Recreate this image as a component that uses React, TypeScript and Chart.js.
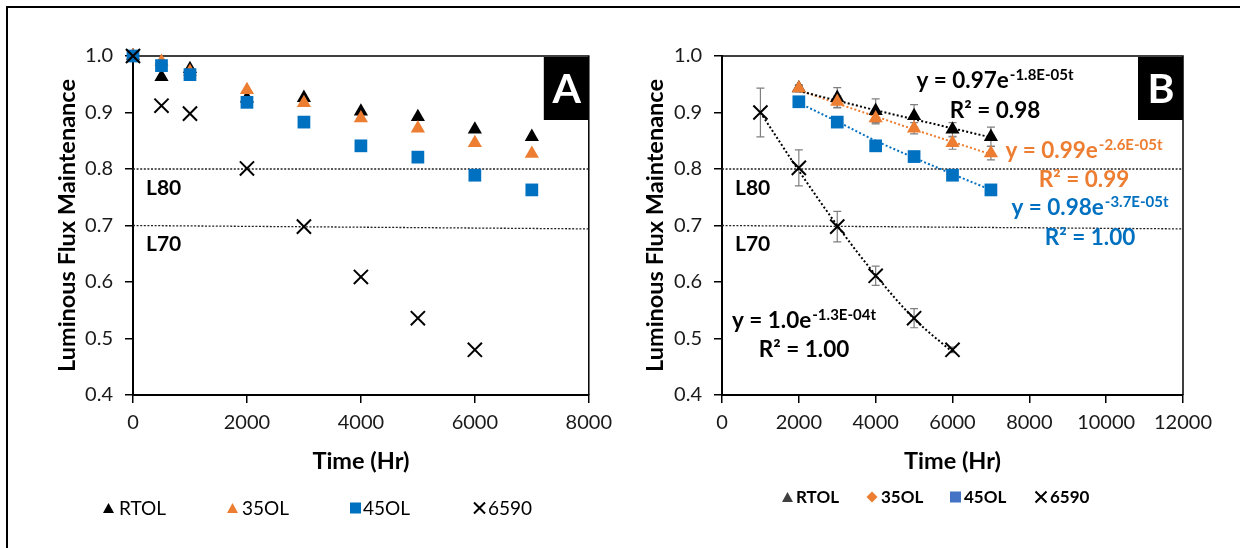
import React, { useEffect, useRef } from 'react';
import { Chart, registerables } from 'chart.js';
Chart.register(...registerables);

const FONT = 'Lato, "Open Sans", sans-serif';

// ---------- Panel A data ----------
const hoursA = [0, 500, 1000, 2000, 3000, 4000, 5000, 6000, 7000];
const rtolA = [1.0, 0.963, 0.977, 0.925, 0.926, 0.902, 0.892, 0.870, 0.857];
const ol35A = [1.0, 0.990, 0.972, 0.940, 0.917, 0.890, 0.872, 0.846, 0.827];
const ol45A = [1.0, 0.983, 0.967, 0.918, 0.883, 0.841, 0.821, 0.789, 0.763];
const hours6590A = [0, 500, 1000, 2000, 3000, 4000, 5000, 6000];
const s6590A = [1.0, 0.912, 0.898, 0.801, 0.698, 0.609, 0.536, 0.480];

// ---------- Panel B data ----------
const hoursB = [2000, 3000, 4000, 5000, 6000, 7000];
const rtolB = [0.943, 0.926, 0.903, 0.894, 0.870, 0.857];
const rtolErrB = [0.005, 0.018, 0.021, 0.020, 0.012, 0.017];
const ol35B = [0.943, 0.919, 0.890, 0.872, 0.846, 0.828];
const ol35ErrB = [0.006, 0.010, 0.010, 0.010, 0.011, 0.012];
const ol45B = [0.919, 0.883, 0.841, 0.822, 0.789, 0.763];
const ol45ErrB = [0.004, 0.005, 0.005, 0.005, 0.005, 0.005];
const hours6590B = [1000, 2000, 3000, 4000, 5000, 6000];
const s6590B = [0.900, 0.802, 0.698, 0.611, 0.536, 0.480];
const err6590B = [0.043, 0.032, 0.027, 0.017, 0.017, 0.005];

// trendlines
const rtolTrendB = [0.938, 0.921, 0.904, 0.888, 0.872, 0.856];
const ol35TrendB = [0.940, 0.916, 0.893, 0.870, 0.848, 0.826];
const ol45TrendB = [0.917, 0.884, 0.850, 0.820, 0.791, 0.763];
const trend6590B = [0.900, 0.797, 0.700, 0.612, 0.535, 0.476];

// limit lines
const limitXA = [0, 8000];
const limitXB = [0, 12000];
const l80Line = [0.8, 0.8];
const l70Line = [0.7, 0.694];
const limitLabels = ['L80', 'L70'];
const limitValues = [0.8, 0.7];

// ticks / labels
const yTicks = [0.4, 0.5, 0.6, 0.7, 0.8, 0.9, 1.0];
const xMaxA = 8000;
const xMaxB = 12000;
const xStep = 2000;
const seriesNames = ['RTOL', '35OL', '45OL', '6590'];
const eqMain = ['y = 0.97e', 'y = 0.99e', 'y = 0.98e', 'y = 1.0e'];
const eqSup = ['-1.8E-05t', '-2.6E-05t', '-3.7E-05t', '-1.3E-04t'];
const eqR2 = ['R² = 0.98', 'R² = 0.99', 'R² = 1.00', 'R² = 1.00'];

const BLACK = '#000000';
const ORANGE = '#ED7D31';
const BLUE = '#0070C0';

const pts = (xs: number[], ys: number[]) => xs.map((x, i) => ({ x, y: ys[i] }));

function drawMarker(ctx: CanvasRenderingContext2D, style: string, x: number, y: number, size: number, color: string) {
  ctx.save();
  ctx.fillStyle = color;
  ctx.strokeStyle = color;
  ctx.beginPath();
  if (style === 'triangle') {
    const h = size * 0.9;
    ctx.moveTo(x, y - h / 2);
    ctx.lineTo(x + size / 2, y + h / 2);
    ctx.lineTo(x - size / 2, y + h / 2);
    ctx.closePath();
    ctx.fill();
  } else if (style === 'rect') {
    ctx.fillRect(x - size / 2, y - size / 2, size, size);
  } else if (style === 'diamond') {
    ctx.moveTo(x, y - size / 2);
    ctx.lineTo(x + size / 2, y);
    ctx.lineTo(x, y + size / 2);
    ctx.lineTo(x - size / 2, y);
    ctx.closePath();
    ctx.fill();
  } else {
    ctx.lineWidth = 2;
    ctx.moveTo(x - size / 2, y - size / 2);
    ctx.lineTo(x + size / 2, y + size / 2);
    ctx.moveTo(x + size / 2, y - size / 2);
    ctx.lineTo(x - size / 2, y + size / 2);
    ctx.stroke();
  }
  ctx.restore();
}

function makeScales(xMax: number, yWidth: number) {
  return {
    x: {
      type: 'linear',
      min: 0,
      max: xMax,
      ticks: {
        stepSize: xStep,
        callback: (v: any) => String(v),
        font: { family: FONT, size: 20 },
        color: '#1a1a1a',
        padding: 8,
        maxRotation: 0,
        autoSkip: false,
      },
      grid: { drawOnChartArea: false, drawTicks: true, tickLength: 8, color: '#000', lineWidth: 1.5 },
      border: { display: true, color: '#000', width: 2 },
      afterFit: (s: any) => { s.height = 153; },
    },
    y: {
      type: 'linear',
      min: 0.4,
      max: 1.0,
      afterBuildTicks: (s: any) => { s.ticks = yTicks.map((v) => ({ value: v })); },
      ticks: {
        callback: (v: any) => Number(v).toFixed(1),
        font: { family: FONT, size: 20 },
        color: '#1a1a1a',
        padding: 12,
      },
      grid: { drawOnChartArea: false, drawTicks: true, tickLength: 8, color: '#000', lineWidth: 1.5 },
      border: { display: true, color: '#000', width: 2 },
      afterFit: (s: any) => { s.width = yWidth; },
    },
  };
}

function limitDatasets(xs: number[]) {
  return [
    { label: 'L80', data: pts(xs, l80Line), showLine: true, borderColor: '#222', borderWidth: 1.3, borderDash: [2, 1.6], pointRadius: 0, order: 20 },
    { label: 'L70', data: pts(xs, l70Line), showLine: true, borderColor: '#222', borderWidth: 1.3, borderDash: [2, 1.6], pointRadius: 0, order: 20 },
  ];
}

function commonDecor(chart: any, titleX: number, legendY: number, legendItems: any[], letter: string) {
  const ctx: CanvasRenderingContext2D = chart.ctx;
  const ca = chart.chartArea;
  const ys = chart.scales.y;
  ctx.save();
  // L labels
  ctx.fillStyle = '#000';
  ctx.font = `bold 21px ${FONT}`;
  ctx.textAlign = 'left';
  ctx.textBaseline = 'middle';
  limitLabels.forEach((t, i) => {
    ctx.fillText(t, ca.left + 13, ys.getPixelForValue(limitValues[i]) + 19);
  });
  // letter box
  ctx.fillStyle = '#000';
  ctx.fillRect(ca.right - 45, ca.top + 1, 45, 63);
  ctx.fillStyle = '#fff';
  ctx.font = `bold 41px ${FONT}`;
  ctx.textAlign = 'center';
  ctx.textBaseline = 'middle';
  ctx.fillText(letter, ca.right - 22, ca.top + 34);
  // axis titles
  ctx.fillStyle = '#000';
  ctx.font = `bold 23.5px ${FONT}`;
  ctx.textAlign = 'center';
  ctx.textBaseline = 'middle';
  ctx.fillText('Time (Hr)', (ca.left + ca.right) / 2, 461);
  ctx.save();
  ctx.translate(titleX, (ca.top + ca.bottom) / 2);
  ctx.rotate(-Math.PI / 2);
  ctx.fillText('Luminous Flux Maintenance', 0, 0);
  ctx.restore();
  // legend
  legendItems.forEach((it) => {
    drawMarker(ctx, it.style, it.mx, legendY, it.size, it.color);
    ctx.fillStyle = '#000';
    ctx.font = it.font;
    ctx.textAlign = 'left';
    ctx.textBaseline = 'middle';
    ctx.fillText(it.text, it.tx, legendY + 1);
  });
  ctx.restore();
}

function frame(chart: any) {
  const ctx: CanvasRenderingContext2D = chart.ctx;
  const ca = chart.chartArea;
  ctx.save();
  ctx.strokeStyle = '#000';
  ctx.lineWidth = 1.5;
  ctx.beginPath();
  ctx.moveTo(ca.left, ca.top);
  ctx.lineTo(ca.right, ca.top);
  ctx.lineTo(ca.right, ca.bottom);
  ctx.stroke();
  ctx.restore();
}

function buildA(): any {
  const legendFont = `19px ${FONT}`;
  return {
    type: 'scatter',
    data: {
      datasets: [
        ...limitDatasets(limitXA),
        { label: seriesNames[0], data: pts(hoursA, rtolA), pointStyle: 'triangle', pointRadius: 8.2, pointBackgroundColor: BLACK, pointBorderWidth: 0, order: 4, clip: false },
        { label: seriesNames[1], data: pts(hoursA, ol35A), pointStyle: 'triangle', pointRadius: 8.2, pointBackgroundColor: ORANGE, pointBorderWidth: 0, order: 3, clip: false },
        { label: seriesNames[2], data: pts(hoursA, ol45A), pointStyle: 'rect', pointRadius: 9, pointBackgroundColor: BLUE, pointBorderWidth: 0, order: 2, clip: false },
        { label: seriesNames[3], data: pts(hours6590A, s6590A), pointStyle: 'crossRot', pointRadius: 10, pointBorderColor: BLACK, pointBorderWidth: 2, order: 1, clip: false },
      ],
    },
    options: {
      responsive: false,
      animation: false,
      events: [],
      layout: { padding: { top: 56, right: 29, left: 0, bottom: 0 } },
      plugins: { legend: { display: false }, tooltip: { enabled: false } },
      scales: makeScales(xMaxA, 133),
    },
    plugins: [
      {
        id: 'decorA',
        beforeDatasetsDraw: (chart: any) => frame(chart),
        afterDatasetsDraw: (chart: any) => {
          commonDecor(chart, 67, 508, [
            { style: 'triangle', mx: 108.5, size: 11, color: BLACK, tx: 119, text: seriesNames[0], font: legendFont },
            { style: 'triangle', mx: 232.5, size: 11, color: ORANGE, tx: 242, text: seriesNames[1], font: legendFont },
            { style: 'rect', mx: 355.5, size: 11, color: BLUE, tx: 363, text: seriesNames[2], font: legendFont },
            { style: 'cross', mx: 479.5, size: 11, color: BLACK, tx: 488, text: seriesNames[3], font: legendFont },
          ], 'A');
          const ctx: CanvasRenderingContext2D = chart.ctx;
          ctx.save();
          ctx.fillStyle = '#000';
          ctx.fillRect(6, 6, 620 - 6, 2);
          ctx.fillRect(6, 6, 2, 548 - 6);
          ctx.restore();
        },
      },
    ],
  };
}

function buildB(): any {
  const legendFont = `bold 17px ${FONT}`;
  const errorSets = [
    { xs: hoursB, ys: rtolB, err: rtolErrB },
    { xs: hoursB, ys: ol35B, err: ol35ErrB },
    { xs: hoursB, ys: ol45B, err: ol45ErrB },
    { xs: hours6590B, ys: s6590B, err: err6590B },
  ];
  const eqPos = [
    { cx: 375, eqBase: 88, r2Base: 118, color: BLACK },
    { cx: 464, eqBase: 158, r2Base: 187, color: ORANGE },
    { cx: 470, eqBase: 215, r2Base: 245, color: BLUE },
    { cx: 184, eqBase: 328, r2Base: 357, color: BLACK },
  ];
  const trend = (label: string, xs: number[], ys: number[], color: string) => ({
    label, data: pts(xs, ys), showLine: true, borderColor: color, borderWidth: 2, borderDash: [2, 2.2],
    pointRadius: 0, cubicInterpolationMode: 'monotone', order: 15,
  });
  return {
    type: 'scatter',
    data: {
      datasets: [
        ...limitDatasets(limitXB),
        trend('RTOL trend', hoursB, rtolTrendB, BLACK),
        trend('35OL trend', hoursB, ol35TrendB, ORANGE),
        trend('45OL trend', hoursB, ol45TrendB, BLUE),
        trend('6590 trend', hours6590B, trend6590B, BLACK),
        { label: seriesNames[0], data: pts(hoursB, rtolB), pointStyle: 'triangle', pointRadius: 8.2, pointBackgroundColor: BLACK, pointBorderWidth: 0, order: 4, clip: false },
        { label: seriesNames[1], data: pts(hoursB, ol35B), pointStyle: 'triangle', pointRadius: 8.2, pointBackgroundColor: ORANGE, pointBorderWidth: 0, order: 3, clip: false },
        { label: seriesNames[2], data: pts(hoursB, ol45B), pointStyle: 'rect', pointRadius: 9, pointBackgroundColor: BLUE, pointBorderWidth: 0, order: 2, clip: false },
        { label: seriesNames[3], data: pts(hours6590B, s6590B), pointStyle: 'crossRot', pointRadius: 10, pointBorderColor: BLACK, pointBorderWidth: 2, order: 1, clip: false },
      ],
    },
    options: {
      responsive: false,
      animation: false,
      events: [],
      layout: { padding: { top: 56, right: 57, left: 0, bottom: 0 } },
      plugins: { legend: { display: false }, tooltip: { enabled: false } },
      scales: makeScales(xMaxB, 102),
    },
    plugins: [
      {
        id: 'decorB',
        beforeDatasetsDraw: (chart: any) => {
          frame(chart);
          const ctx: CanvasRenderingContext2D = chart.ctx;
          const xs = chart.scales.x;
          const ysc = chart.scales.y;
          ctx.save();
          ctx.strokeStyle = '#7f7f7f';
          ctx.lineWidth = 1.2;
          errorSets.forEach((s) => {
            s.xs.forEach((xv, i) => {
              const px = xs.getPixelForValue(xv);
              const top = ysc.getPixelForValue(s.ys[i] + s.err[i]);
              const bot = ysc.getPixelForValue(s.ys[i] - s.err[i]);
              ctx.beginPath();
              ctx.moveTo(px, top); ctx.lineTo(px, bot);
              ctx.moveTo(px - 4, top); ctx.lineTo(px + 4, top);
              ctx.moveTo(px - 4, bot); ctx.lineTo(px + 4, bot);
              ctx.stroke();
            });
          });
          ctx.restore();
        },
        afterDatasetsDraw: (chart: any) => {
          commonDecor(chart, 35, 497, [
            { style: 'triangle', mx: 167.5, size: 11, color: '#404040', tx: 176, text: seriesNames[0], font: legendFont },
            { style: 'diamond', mx: 252, size: 11, color: ORANGE, tx: 261, text: seriesNames[1], font: legendFont },
            { style: 'rect', mx: 335.5, size: 11, color: '#4472C4', tx: 344, text: seriesNames[2], font: legendFont },
            { style: 'cross', mx: 421, size: 11, color: BLACK, tx: 430, text: seriesNames[3], font: legendFont },
          ], 'B');
          const ctx: CanvasRenderingContext2D = chart.ctx;
          ctx.save();
          ctx.textBaseline = 'alphabetic';
          eqPos.forEach((p, i) => {
            ctx.fillStyle = p.color;
            const mainFont = `bold 22.5px ${FONT}`;
            const supFont = `bold 15px ${FONT}`;
            ctx.font = mainFont;
            const wm = ctx.measureText(eqMain[i]).width;
            ctx.font = supFont;
            const ws = ctx.measureText(eqSup[i]).width;
            const left = p.cx - (wm + ws + 1) / 2;
            ctx.font = mainFont;
            ctx.textAlign = 'left';
            ctx.fillText(eqMain[i], left, p.eqBase);
            ctx.font = supFont;
            ctx.fillText(eqSup[i], left + wm + 1, p.eqBase - 8);
            ctx.font = mainFont;
            ctx.textAlign = 'center';
            ctx.fillText(eqR2[i], p.cx, p.r2Base);
          });
          ctx.fillStyle = '#000';
          ctx.fillRect(0, 6, 620, 2);
          ctx.restore();
        },
      },
    ],
  };
}

export default function App() {
  const refA = useRef<HTMLCanvasElement>(null);
  const refB = useRef<HTMLCanvasElement>(null);
  useEffect(() => {
    const a = new Chart(refA.current as HTMLCanvasElement, buildA());
    const b = new Chart(refB.current as HTMLCanvasElement, buildB());
    return () => {
      a.destroy();
      b.destroy();
    };
  }, []);
  return (
    <div style={{ position: 'absolute', left: 0, top: 0, width: 1240, height: 548, background: '#fff', overflow: 'hidden' }}>
      <canvas ref={refA} width={620} height={548} style={{ position: 'absolute', left: 0, top: 0, width: 620, height: 548 }} />
      <canvas ref={refB} width={620} height={548} style={{ position: 'absolute', left: 620, top: 0, width: 620, height: 548 }} />
    </div>
  );
}
